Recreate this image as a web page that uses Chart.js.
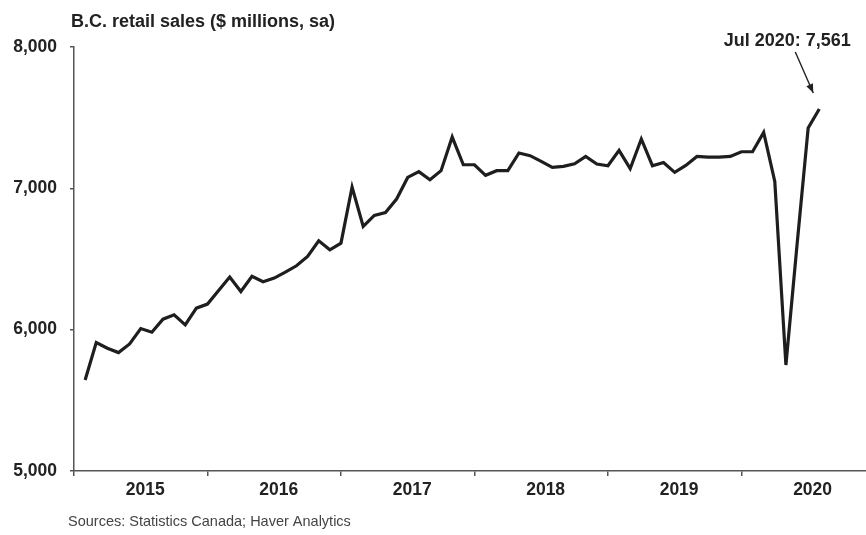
<!DOCTYPE html>
<html>
<head>
<meta charset="utf-8">
<script src="https://cdn.jsdelivr.net/npm/chart.js@4/dist/chart.umd.min.js"></script>
<style>
  html, body { margin: 0; padding: 0; background: #ffffff; }
  #wrap { position: relative; width: 866px; height: 535px; }
</style>
</head>
<body>
<div id="wrap"><canvas id="c" width="866" height="535"></canvas></div>
<script>
// Monthly B.C. retail sales, seasonally adjusted ($ millions), Jan 2015 – Jul 2020
const months = [
  'Jan 2015','Feb 2015','Mar 2015','Apr 2015','May 2015','Jun 2015','Jul 2015','Aug 2015','Sep 2015','Oct 2015','Nov 2015','Dec 2015',
  'Jan 2016','Feb 2016','Mar 2016','Apr 2016','May 2016','Jun 2016','Jul 2016','Aug 2016','Sep 2016','Oct 2016','Nov 2016','Dec 2016',
  'Jan 2017','Feb 2017','Mar 2017','Apr 2017','May 2017','Jun 2017','Jul 2017','Aug 2017','Sep 2017','Oct 2017','Nov 2017','Dec 2017',
  'Jan 2018','Feb 2018','Mar 2018','Apr 2018','May 2018','Jun 2018','Jul 2018','Aug 2018','Sep 2018','Oct 2018','Nov 2018','Dec 2018',
  'Jan 2019','Feb 2019','Mar 2019','Apr 2019','May 2019','Jun 2019','Jul 2019','Aug 2019','Sep 2019','Oct 2019','Nov 2019','Dec 2019',
  'Jan 2020','Feb 2020','Mar 2020','Apr 2020','May 2020','Jun 2020','Jul 2020'
];
const sales = [
  5644, 5909, 5869, 5838, 5899, 6008, 5982, 6074, 6105, 6034, 6152, 6181,
  6277, 6372, 6270, 6377, 6339, 6365, 6407, 6452, 6518, 6629, 6565, 6612,
  7009, 6730, 6808, 6829, 6924, 7077, 7118, 7061, 7125, 7363, 7167, 7167,
  7092, 7125, 7125, 7250, 7231, 7191, 7148, 7155, 7174, 7226, 7172, 7160,
  7269, 7139, 7349, 7160, 7183, 7113, 7162, 7226, 7221, 7221, 7226, 7259,
  7259, 7396, 7049, 5750, 6600, 7427, 7561
];
const years = ['2015', '2016', '2017', '2018', '2019', '2020'];
const yTicks = [5000, 6000, 7000, 8000];

const titleText = 'B.C. retail sales ($ millions, sa)';
const sourceText = 'Sources: Statistics Canada; Haver Analytics';
const calloutText = 'Jul 2020: 7,561';

// Each month is plotted at its month-end, counting months from Jan 1, 2015
const points = sales.map((v, i) => ({ x: i + 1, y: v }));

// Year boundaries get tick marks; year names sit mid-year without marks
const boundaryTicks = years.map((_, i) => i * 12);
const labelTicks = years.map((_, i) => i * 12 + 6.4);

const FONT = '"Liberation Sans", Arial, Helvetica, sans-serif';
const AXIS = '#555555';

const textPlugin = {
  id: 'texts',
  afterDraw(chart) {
    const ctx = chart.ctx;
    const xs = chart.scales.x, ys = chart.scales.y;
    ctx.save();
    ctx.fillStyle = '#222222';
    ctx.textBaseline = 'alphabetic';
    ctx.textAlign = 'left';
    ctx.font = 'bold 18px ' + FONT;
    ctx.fillText(titleText, 71, 27);

    ctx.font = '14.5px ' + FONT;
    ctx.fillStyle = '#444444';
    ctx.fillText(sourceText, 68, 526);

    // Callout on the latest month
    const last = points[points.length - 1];
    const px = xs.getPixelForValue(last.x);
    const py = ys.getPixelForValue(last.y);
    ctx.fillStyle = '#222222';
    ctx.textAlign = 'center';
    ctx.font = 'bold 18px ' + FONT;
    ctx.fillText(calloutText, px - 32, 46);

    const x0 = px - 24, y0 = 52;
    const x1 = px - 6, y1 = py - 16;
    ctx.strokeStyle = '#222222';
    ctx.lineWidth = 1.4;
    ctx.beginPath();
    ctx.moveTo(x0, y0);
    ctx.lineTo(x1, y1);
    ctx.stroke();
    const ang = Math.atan2(y1 - y0, x1 - x0);
    const L = 9, W = 3.6;
    ctx.beginPath();
    ctx.moveTo(x1, y1);
    ctx.lineTo(x1 - L * Math.cos(ang) + W * Math.sin(ang), y1 - L * Math.sin(ang) - W * Math.cos(ang));
    ctx.lineTo(x1 - L * Math.cos(ang) - W * Math.sin(ang), y1 - L * Math.sin(ang) + W * Math.cos(ang));
    ctx.closePath();
    ctx.fill();
    ctx.restore();
  }
};

new Chart(document.getElementById('c'), {
  type: 'line',
  data: {
    datasets: [{
      label: 'B.C. retail sales',
      data: points,
      borderColor: '#1e1e1e',
      borderWidth: 3.2,
      pointRadius: 0,
      tension: 0,
      fill: false
    }]
  },
  options: {
    responsive: false,
    animation: false,
    layout: { padding: { top: 47, right: 0, bottom: 0, left: 0 } },
    plugins: {
      legend: { display: false },
      tooltip: { enabled: false },
      title: { display: false }
    },
    scales: {
      x: {
        type: 'linear',
        min: 0,
        max: 71.2,
        afterBuildTicks(scale) {
          scale.ticks = boundaryTicks.map(v => ({ value: v }))
            .concat(labelTicks.map(v => ({ value: v })));
        },
        afterFit(scale) { scale.height = 64; },
        ticks: {
          autoSkip: false,
          maxRotation: 0,
          padding: 4,
          color: '#222222',
          font: { family: FONT, size: 17.5, weight: 'bold' },
          callback(value) {
            const i = labelTicks.findIndex(v => Math.abs(v - value) < 0.01);
            return i >= 0 ? years[i] : '';
          }
        },
        grid: {
          drawOnChartArea: false,
          drawTicks: true,
          tickLength: 5,
          lineWidth: 1.5,
          color(ctx) {
            const v = ctx.tick ? ctx.tick.value : null;
            return boundaryTicks.includes(v) ? AXIS : 'rgba(0,0,0,0)';
          }
        },
        border: { display: true, color: AXIS, width: 1.5 }
      },
      y: {
        type: 'linear',
        min: 5000,
        max: 8000,
        afterBuildTicks(scale) {
          scale.ticks = yTicks.map(v => ({ value: v }));
        },
        afterFit(scale) { scale.width = 74; },
        ticks: {
          padding: 13,
          color: '#222222',
          font: { family: FONT, size: 17.5, weight: 'bold' },
          callback(value) { return value.toLocaleString('en-US'); }
        },
        grid: {
          drawOnChartArea: false,
          drawTicks: true,
          tickLength: 4,
          lineWidth: 1.5,
          color: AXIS
        },
        border: { display: true, color: AXIS, width: 1.5 }
      }
    }
  },
  plugins: [textPlugin]
});
</script>
</body>
</html>
